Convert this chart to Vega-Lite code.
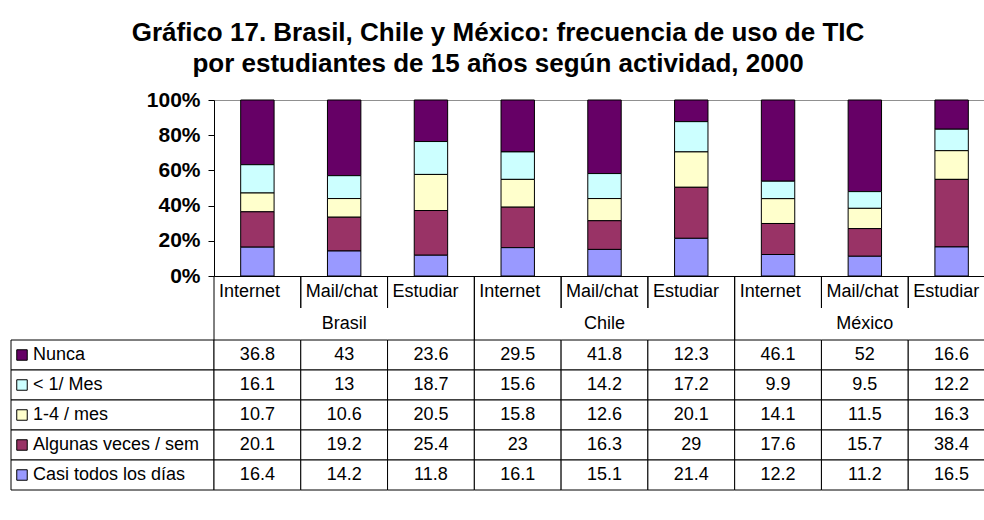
{
  "$schema": "https://vega.github.io/schema/vega-lite/v6.json",
  "padding": {"left": 10, "top": 19, "right": 0, "bottom": 0},
  "background": "white",
  "title": {
    "text": ["Gráfico 17. Brasil, Chile y México: frecuencia de uso de TIC", "por estudiantes de 15 años según actividad, 2000"],
    "fontSize": 26, "fontWeight": "bold", "lineHeight": 31, "anchor": "middle", "offset": 12, "dx": -5, "color": "#000000"
  },
  "datasets": {
    "d": [
      {"p": "Brasil", "a": "Internet", "c": "Brasil Internet", "s": "Nunca", "v": 36.8, "k": 5},
      {"p": "Brasil", "a": "Internet", "c": "Brasil Internet", "s": "< 1/ Mes", "v": 16.1, "k": 4},
      {"p": "Brasil", "a": "Internet", "c": "Brasil Internet", "s": "1-4 / mes", "v": 10.7, "k": 3},
      {"p": "Brasil", "a": "Internet", "c": "Brasil Internet", "s": "Algunas veces / sem", "v": 20.1, "k": 2},
      {"p": "Brasil", "a": "Internet", "c": "Brasil Internet", "s": "Casi todos los días", "v": 16.4, "k": 1},
      {"p": "Brasil", "a": "Mail/chat", "c": "Brasil Mail/chat", "s": "Nunca", "v": 43, "k": 5},
      {"p": "Brasil", "a": "Mail/chat", "c": "Brasil Mail/chat", "s": "< 1/ Mes", "v": 13, "k": 4},
      {"p": "Brasil", "a": "Mail/chat", "c": "Brasil Mail/chat", "s": "1-4 / mes", "v": 10.6, "k": 3},
      {"p": "Brasil", "a": "Mail/chat", "c": "Brasil Mail/chat", "s": "Algunas veces / sem", "v": 19.2, "k": 2},
      {"p": "Brasil", "a": "Mail/chat", "c": "Brasil Mail/chat", "s": "Casi todos los días", "v": 14.2, "k": 1},
      {"p": "Brasil", "a": "Estudiar", "c": "Brasil Estudiar", "s": "Nunca", "v": 23.6, "k": 5},
      {"p": "Brasil", "a": "Estudiar", "c": "Brasil Estudiar", "s": "< 1/ Mes", "v": 18.7, "k": 4},
      {"p": "Brasil", "a": "Estudiar", "c": "Brasil Estudiar", "s": "1-4 / mes", "v": 20.5, "k": 3},
      {"p": "Brasil", "a": "Estudiar", "c": "Brasil Estudiar", "s": "Algunas veces / sem", "v": 25.4, "k": 2},
      {"p": "Brasil", "a": "Estudiar", "c": "Brasil Estudiar", "s": "Casi todos los días", "v": 11.8, "k": 1},
      {"p": "Chile", "a": "Internet", "c": "Chile Internet", "s": "Nunca", "v": 29.5, "k": 5},
      {"p": "Chile", "a": "Internet", "c": "Chile Internet", "s": "< 1/ Mes", "v": 15.6, "k": 4},
      {"p": "Chile", "a": "Internet", "c": "Chile Internet", "s": "1-4 / mes", "v": 15.8, "k": 3},
      {"p": "Chile", "a": "Internet", "c": "Chile Internet", "s": "Algunas veces / sem", "v": 23, "k": 2},
      {"p": "Chile", "a": "Internet", "c": "Chile Internet", "s": "Casi todos los días", "v": 16.1, "k": 1},
      {"p": "Chile", "a": "Mail/chat", "c": "Chile Mail/chat", "s": "Nunca", "v": 41.8, "k": 5},
      {"p": "Chile", "a": "Mail/chat", "c": "Chile Mail/chat", "s": "< 1/ Mes", "v": 14.2, "k": 4},
      {"p": "Chile", "a": "Mail/chat", "c": "Chile Mail/chat", "s": "1-4 / mes", "v": 12.6, "k": 3},
      {"p": "Chile", "a": "Mail/chat", "c": "Chile Mail/chat", "s": "Algunas veces / sem", "v": 16.3, "k": 2},
      {"p": "Chile", "a": "Mail/chat", "c": "Chile Mail/chat", "s": "Casi todos los días", "v": 15.1, "k": 1},
      {"p": "Chile", "a": "Estudiar", "c": "Chile Estudiar", "s": "Nunca", "v": 12.3, "k": 5},
      {"p": "Chile", "a": "Estudiar", "c": "Chile Estudiar", "s": "< 1/ Mes", "v": 17.2, "k": 4},
      {"p": "Chile", "a": "Estudiar", "c": "Chile Estudiar", "s": "1-4 / mes", "v": 20.1, "k": 3},
      {"p": "Chile", "a": "Estudiar", "c": "Chile Estudiar", "s": "Algunas veces / sem", "v": 29, "k": 2},
      {"p": "Chile", "a": "Estudiar", "c": "Chile Estudiar", "s": "Casi todos los días", "v": 21.4, "k": 1},
      {"p": "México", "a": "Internet", "c": "México Internet", "s": "Nunca", "v": 46.1, "k": 5},
      {"p": "México", "a": "Internet", "c": "México Internet", "s": "< 1/ Mes", "v": 9.9, "k": 4},
      {"p": "México", "a": "Internet", "c": "México Internet", "s": "1-4 / mes", "v": 14.1, "k": 3},
      {"p": "México", "a": "Internet", "c": "México Internet", "s": "Algunas veces / sem", "v": 17.6, "k": 2},
      {"p": "México", "a": "Internet", "c": "México Internet", "s": "Casi todos los días", "v": 12.2, "k": 1},
      {"p": "México", "a": "Mail/chat", "c": "México Mail/chat", "s": "Nunca", "v": 52, "k": 5},
      {"p": "México", "a": "Mail/chat", "c": "México Mail/chat", "s": "< 1/ Mes", "v": 9.5, "k": 4},
      {"p": "México", "a": "Mail/chat", "c": "México Mail/chat", "s": "1-4 / mes", "v": 11.5, "k": 3},
      {"p": "México", "a": "Mail/chat", "c": "México Mail/chat", "s": "Algunas veces / sem", "v": 15.7, "k": 2},
      {"p": "México", "a": "Mail/chat", "c": "México Mail/chat", "s": "Casi todos los días", "v": 11.2, "k": 1},
      {"p": "México", "a": "Estudiar", "c": "México Estudiar", "s": "Nunca", "v": 16.6, "k": 5},
      {"p": "México", "a": "Estudiar", "c": "México Estudiar", "s": "< 1/ Mes", "v": 12.2, "k": 4},
      {"p": "México", "a": "Estudiar", "c": "México Estudiar", "s": "1-4 / mes", "v": 16.3, "k": 3},
      {"p": "México", "a": "Estudiar", "c": "México Estudiar", "s": "Algunas veces / sem", "v": 38.4, "k": 2},
      {"p": "México", "a": "Estudiar", "c": "México Estudiar", "s": "Casi todos los días", "v": 16.5, "k": 1}
    ],
    "cols": [
      {"p": "Brasil", "a": "Internet", "c": "Brasil Internet"},
      {"p": "Brasil", "a": "Mail/chat", "c": "Brasil Mail/chat"},
      {"p": "Brasil", "a": "Estudiar", "c": "Brasil Estudiar"},
      {"p": "Chile", "a": "Internet", "c": "Chile Internet"},
      {"p": "Chile", "a": "Mail/chat", "c": "Chile Mail/chat"},
      {"p": "Chile", "a": "Estudiar", "c": "Chile Estudiar"},
      {"p": "México", "a": "Internet", "c": "México Internet"},
      {"p": "México", "a": "Mail/chat", "c": "México Mail/chat"},
      {"p": "México", "a": "Estudiar", "c": "México Estudiar"}
    ],
    "countries": [{"p": "Brasil"}, {"p": "Chile"}, {"p": "México"}],
    "series": [
      {"s": "Nunca"}, {"s": "< 1/ Mes"}, {"s": "1-4 / mes"}, {"s": "Algunas veces / sem"}, {"s": "Casi todos los días"}
    ]
  },
  "columns": 2,
  "spacing": 0,
  "bounds": "flush",
  "concat": [
    {"width": 203, "height": 176, "data": {"values": []}, "mark": "point", "encoding": {}},
    {
      "width": 781, "height": 176,
      "data": {"name": "d"},
      "view": {"stroke": "#909090", "strokeWidth": 1},
      "mark": {"type": "bar", "stroke": "#000000", "strokeWidth": 1},
      "encoding": {
        "x": {"field": "c", "type": "nominal",
          "scale": {"domain": ["Brasil Internet", "Brasil Mail/chat", "Brasil Estudiar", "Chile Internet", "Chile Mail/chat", "Chile Estudiar", "México Internet", "México Mail/chat", "México Estudiar"], "paddingInner": 0.615, "paddingOuter": 0.3075},
          "axis": {"labels": false, "ticks": false, "title": null, "domainColor": "#000000", "domainWidth": 1}},
        "y": {"field": "v", "type": "quantitative", "stack": "normalize",
          "axis": {"values": [0, 0.2, 0.4, 0.6, 0.8, 1], "format": ".0%", "title": null, "grid": false,
            "labelFontSize": 21, "labelFontWeight": "bold", "labelColor": "#000000", "labelPadding": 8,
            "tickSize": 6, "tickColor": "#000000", "domainColor": "#000000", "domainWidth": 1}},
        "color": {"field": "s", "type": "nominal", "legend": null,
          "scale": {"domain": ["Nunca", "< 1/ Mes", "1-4 / mes", "Algunas veces / sem", "Casi todos los días"],
            "range": ["#660066", "#CCFFFF", "#FFFFCC", "#993366", "#9999FF"]}},
        "order": {"field": "k", "type": "quantitative"}
      }
    },
    {"width": 203, "height": 32, "data": {"values": []}, "mark": "point", "encoding": {}},
    {
      "width": 781, "height": 32,
      "data": {"name": "cols"},
      "encoding": {
        "x": {"field": "c", "type": "nominal", "sort": null, "scale": {"paddingInner": 0, "paddingOuter": 0}, "axis": null}
      },
      "layer": [
        {"mark": {"type": "rule", "color": "#000000", "strokeWidth": 1}, "encoding": {"x": {"field": "c", "type": "nominal", "sort": null, "bandPosition": 0}}},
        {"mark": {"type": "rule", "color": "#000000", "strokeWidth": 1}, "encoding": {"x": {"field": "c", "type": "nominal", "sort": null, "bandPosition": 1}}},
        {"mark": {"type": "text", "fontSize": 18, "color": "#000000", "baseline": "middle", "align": "left", "dx": 5},
          "encoding": {"x": {"field": "c", "type": "nominal", "sort": null, "bandPosition": 0}, "text": {"field": "a"}}}
      ]
    },
    {"width": 203, "height": 32, "data": {"values": []}, "mark": "point", "encoding": {}},
    {
      "width": 781, "height": 32,
      "data": {"name": "countries"},
      "encoding": {
        "x": {"field": "p", "type": "nominal", "sort": null, "scale": {"paddingInner": 0, "paddingOuter": 0}, "axis": null}
      },
      "layer": [
        {"mark": {"type": "rule", "color": "#000000", "strokeWidth": 1}, "encoding": {"x": {"field": "p", "type": "nominal", "sort": null, "bandPosition": 0}}},
        {"mark": {"type": "rule", "color": "#000000", "strokeWidth": 1}, "encoding": {"x": {"field": "p", "type": "nominal", "sort": null, "bandPosition": 1}}},
        {"mark": {"type": "text", "fontSize": 18, "color": "#000000", "baseline": "middle"}, "encoding": {"text": {"field": "p"}}}
      ]
    },
    {
      "width": 203, "height": 150,
      "data": {"name": "series"},
      "encoding": {
        "y": {"field": "s", "type": "nominal", "sort": null, "scale": {"paddingInner": 0, "paddingOuter": 0}, "axis": null}
      },
      "layer": [
        {"mark": {"type": "rect", "fill": "white", "stroke": "#000000", "strokeWidth": 1}},
        {"mark": {"type": "point", "shape": "square", "size": 110, "filled": true, "stroke": "#000000", "strokeWidth": 1, "opacity": 1},
          "encoding": {"x": {"value": 11},
            "color": {"field": "s", "type": "nominal", "legend": null,
              "scale": {"domain": ["Nunca", "< 1/ Mes", "1-4 / mes", "Algunas veces / sem", "Casi todos los días"],
                "range": ["#660066", "#CCFFFF", "#FFFFCC", "#993366", "#9999FF"]}}}},
        {"mark": {"type": "text", "fontSize": 18, "color": "#000000", "align": "left", "baseline": "middle"},
          "encoding": {"x": {"value": 22}, "text": {"field": "s"}}}
      ]
    },
    {
      "width": 781, "height": 150,
      "data": {"name": "d"},
      "encoding": {
        "x": {"field": "c", "type": "nominal",
          "scale": {"domain": ["Brasil Internet", "Brasil Mail/chat", "Brasil Estudiar", "Chile Internet", "Chile Mail/chat", "Chile Estudiar", "México Internet", "México Mail/chat", "México Estudiar"], "paddingInner": 0, "paddingOuter": 0}, "axis": null},
        "y": {"field": "s", "type": "nominal",
          "scale": {"domain": ["Nunca", "< 1/ Mes", "1-4 / mes", "Algunas veces / sem", "Casi todos los días"], "paddingInner": 0, "paddingOuter": 0}, "axis": null}
      },
      "layer": [
        {"mark": {"type": "rect", "fill": "white", "stroke": "#000000", "strokeWidth": 1}},
        {"mark": {"type": "text", "fontSize": 18, "color": "#000000", "baseline": "middle"}, "encoding": {"text": {"field": "v", "type": "quantitative"}}}
      ]
    }
  ],
  "config": {
    "font": "Liberation Sans",
    "view": {"stroke": null}
  }
}
